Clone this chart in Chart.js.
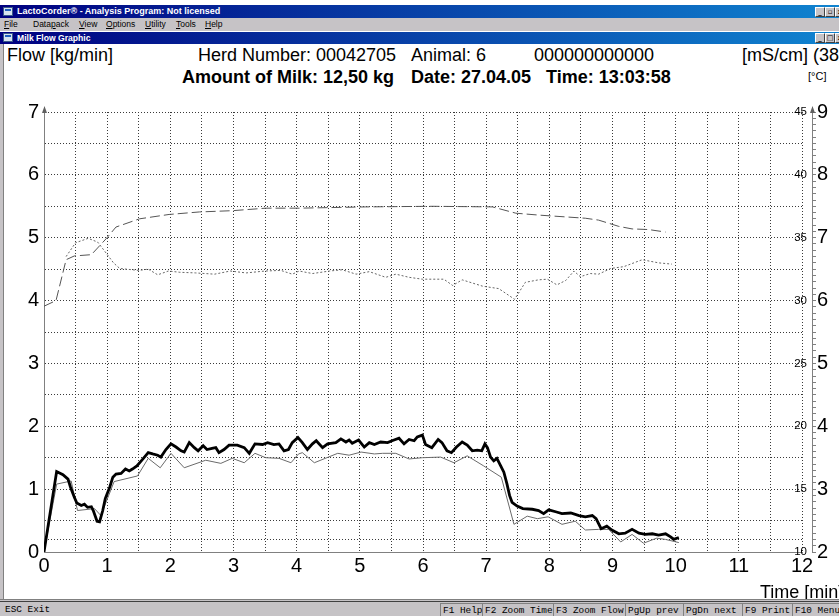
<!DOCTYPE html>
<html>
<head>
<meta charset="utf-8">
<title>Milk Flow Graphic</title>
<script src="https://cdn.jsdelivr.net/npm/chart.js@4.4.1/dist/chart.umd.min.js"></script>
<style>
  html, body { margin: 0; padding: 0; background: #fff; }
  #screen { position: relative; width: 839px; height: 616px; overflow: hidden; background: #fff;
            font-family: "Liberation Sans", Arial, sans-serif; color: #000; }
  .caption { position: absolute; left: 0; width: 839px; color: #fff; font-weight: bold;
             background: linear-gradient(to right, #000080, #1084d0); white-space: nowrap; }
  .caption .txt { position: absolute; left: 17px; top: 0; }
  .icon { position: absolute; left: 3px; width: 10px; height: 9px; background: #d8e4f0;
          border: 1px solid #3a5a8a; box-sizing: border-box; }
  .icon::after { content: ""; position: absolute; left: 1px; top: 1px; width: 6px; height: 2px; background: #2060c0; }
  .btn { position: absolute; width: 8px; height: 8px; background: #c6c3c6; border: 1px solid;
         border-color: #fff #404040 #404040 #fff; font: bold 7px/8px "DejaVu Sans", sans-serif;
         color: #000; text-align: center; box-sizing: content-box; }
  #menu { position: absolute; left: 0; top: 18px; width: 839px; height: 13px; background: #c6c3c6;
          font-size: 8.5px; line-height: 13px; }
  #menu span { position: absolute; top: 0; }
  #leftedge { position: absolute; left: 0; top: 44px; width: 3px; height: 556px; background: #c6c3c6;
              border-right: 1px solid #808080; }
  .hdr { position: absolute; font-size: 18px; line-height: 20px; white-space: nowrap; }
  .hdr.b { font-weight: bold; }
  #degc { position: absolute; left: 808px; top: 70px; font-size: 11px; line-height: 13px; }
  #timeTitle { position: absolute; left: 760px; top: 582px; font-size: 18px; line-height: 20px; white-space: nowrap; }
  #chartBox { position: absolute; left: 0; top: 95px; }
  #bottomEdge { position: absolute; left: 0; top: 599px; width: 839px; height: 3px;
                border-top: 1px solid #808080; border-bottom: 1px solid #404040; background: #c6c3c6; box-sizing: border-box; }
  #status { position: absolute; left: 0; top: 602px; width: 839px; height: 14px; background: #c6c3c6;
            font-family: "Liberation Mono", "DejaVu Sans Mono", monospace; font-size: 9.4px; line-height: 13px; }
  #status span { position: absolute; top: 1px; height: 13px; white-space: nowrap; overflow: hidden;
                 padding-left: 2px; box-sizing: border-box; }
  #status span.cell { border-left: 1px solid #808080; border-top: 1px solid #808080; }
</style>
</head>
<body>
<div id="screen">
  <div class="caption" style="top:5px;height:13px;font-size:9px;line-height:13px;">
    <div class="icon" style="top:2px;"></div>
    <span class="txt">LactoCorder® - Analysis Program: Not licensed</span>
    <div class="btn" style="left:815px;top:2px;">_</div>
    <div class="btn" style="left:825px;top:2px;">▫</div>
    <div class="btn" style="left:835px;top:2px;">x</div>
  </div>
  <div id="menu">
    <span style="left:4px"><u>F</u>ile</span>
    <span style="left:33px">Data<u>p</u>ack</span>
    <span style="left:79px"><u>V</u>iew</span>
    <span style="left:106px"><u>O</u>ptions</span>
    <span style="left:145px"><u>U</u>tility</span>
    <span style="left:176px"><u>T</u>ools</span>
    <span style="left:205px"><u>H</u>elp</span>
  </div>
  <div class="caption" style="top:32px;height:12px;font-size:8.6px;line-height:12px;">
    <div class="icon" style="top:1px;"></div>
    <span class="txt">Milk Flow Graphic</span>
    <div class="btn" style="left:815px;top:1px;">_</div>
    <div class="btn" style="left:825px;top:1px;">□</div>
    <div class="btn" style="left:835px;top:1px;">x</div>
  </div>
  <div id="leftedge"></div>

  <div class="hdr" style="left:7px;top:45px;">Flow [kg/min]</div>
  <div class="hdr" style="left:198px;top:45px;">Herd Number: 00042705</div>
  <div class="hdr" style="left:411px;top:45px;">Animal: 6</div>
  <div class="hdr" style="left:534px;top:45px;">000000000000</div>
  <div class="hdr" style="left:742px;top:45px;">[mS/cm] (38)</div>
  <div class="hdr b" style="left:182px;top:67px;">Amount of Milk: 12,50 kg</div>
  <div class="hdr b" style="left:411px;top:67px;">Date: 27.04.05</div>
  <div class="hdr b" style="left:546px;top:67px;">Time: 13:03:58</div>
  <div id="degc">[°C]</div>

  <div id="chartBox"><canvas id="chart" width="839" height="505"></canvas></div>
  <div id="timeTitle">Time [min]</div>

  <div id="bottomEdge"></div>
  <div id="status">
    <span style="left:3px;width:200px;">ESC Exit</span>
    <span class="cell" style="left:440px;width:42px;">F1 Help</span>
    <span class="cell" style="left:482px;width:71px;">F2 Zoom Time</span>
    <span class="cell" style="left:553px;width:72px;">F3 Zoom Flow</span>
    <span class="cell" style="left:625px;width:58px;">PgUp prev</span>
    <span class="cell" style="left:683px;width:59px;">PgDn next</span>
    <span class="cell" style="left:742px;width:50px;">F9 Print</span>
    <span class="cell" style="left:792px;width:60px;">F10 Menu</span>
  </div>
</div>

<script>
// Milking record: flow (kg/min), comparison flow, temperature (°C), conductivity (mS/cm)
const flowTime = [0,0.2,0.3,0.38,0.42,0.48,0.52,0.59,0.64,0.69,0.75,0.78,0.84,0.88,0.93,0.97,1.04,1.09,1.14,1.22,
  1.29,1.35,1.40,1.47,1.54,1.65,1.72,1.80,1.85,1.93,2.01,2.09,2.17,2.22,2.30,2.38,2.44,2.52,2.58,2.66,
  2.72,2.77,2.85,2.93,3.06,3.17,3.25,3.34,3.46,3.54,3.64,3.72,3.80,3.87,3.93,4.02,4.09,4.17,4.25,4.31,
  4.41,4.49,4.62,4.70,4.78,4.83,4.88,4.98,5.07,5.15,5.23,5.33,5.44,5.51,5.62,5.70,5.78,5.86,5.91,5.99,
  6.04,6.14,6.24,6.30,6.38,6.45,6.53,6.62,6.70,6.78,6.86,6.93,6.98,7.02,7.07,7.12,7.17,7.23,7.28,7.33,
  7.37,7.41,7.49,7.58,7.73,7.83,7.91,7.99,8.10,8.20,8.34,8.47,8.57,8.68,8.74,8.82,8.91,8.99,9.10,9.20,
  9.31,9.42,9.52,9.63,9.73,9.84,9.92,9.97,10.05];
const flowValues = [0,1.28,1.23,1.16,1.03,0.87,0.78,0.74,0.76,0.71,0.72,0.66,0.49,0.48,0.66,0.85,1.03,1.19,1.24,1.25,
  1.32,1.29,1.32,1.37,1.45,1.58,1.56,1.54,1.51,1.63,1.72,1.67,1.61,1.59,1.74,1.66,1.61,1.69,1.63,1.65,
  1.66,1.58,1.63,1.70,1.70,1.66,1.57,1.72,1.71,1.74,1.71,1.72,1.61,1.63,1.74,1.82,1.74,1.63,1.72,1.77,
  1.66,1.72,1.74,1.80,1.75,1.78,1.73,1.78,1.67,1.74,1.71,1.75,1.74,1.77,1.81,1.72,1.79,1.77,1.83,1.86,
  1.71,1.66,1.79,1.74,1.61,1.58,1.67,1.75,1.70,1.61,1.62,1.61,1.72,1.66,1.51,1.45,1.49,1.37,1.27,1.08,
  0.90,0.79,0.73,0.69,0.68,0.66,0.61,0.67,0.64,0.61,0.62,0.58,0.56,0.58,0.53,0.37,0.41,0.35,0.29,0.30,
  0.36,0.30,0.28,0.29,0.27,0.29,0.24,0.20,0.23];

const refTime = [0,0.2,0.43,0.53,0.80,0.90,1.11,1.48,1.65,1.84,2.01,2.22,2.56,2.80,2.98,3.17,3.34,3.51,3.72,3.91,
  4.03,4.09,4.28,4.65,4.83,5.02,5.23,5.36,5.57,5.78,5.99,6.28,6.49,6.70,6.96,7.24,7.44,7.65,7.81,7.98,
  8.20,8.41,8.57,8.78,8.94,9.13,9.31,9.49,9.70,9.84,10.05];
const refValues = [0,1.08,1.13,0.66,0.69,0.58,1.12,1.21,1.49,1.34,1.57,1.34,1.46,1.41,1.49,1.42,1.57,1.50,1.49,1.42,
  1.56,1.58,1.42,1.57,1.54,1.59,1.56,1.57,1.57,1.48,1.50,1.51,1.42,1.53,1.37,1.19,0.44,0.57,0.53,0.56,
  0.44,0.49,0.35,0.36,0.36,0.16,0.28,0.14,0.22,0.20,0.15];

const tempTime = [0,0.19,0.35,0.48,0.75,0.98,1.14,1.51,1.98,2.46,2.98,3.51,4.04,5.09,6.15,7.10,7.47,7.83,8.57,8.78,
  9.10,9.31,9.57,9.84];
const tempValues = [29.55,30.0,33.25,33.55,33.65,34.9,35.85,36.5,36.85,37.05,37.15,37.35,37.35,37.45,37.5,37.45,36.95,36.8,36.55,36.4,
  35.9,35.7,35.65,35.45];

const condTime = [0.35,0.5,0.7,0.85,0.95,1.1,1.2,1.5,1.65,1.8,1.97,2.15,2.4,2.7,2.95,3.2,3.5,3.75,3.93,4.04,
  4.25,4.52,4.72,4.94,5.15,5.41,5.57,5.78,5.99,6.33,6.47,6.62,6.94,7.20,7.45,7.62,7.83,7.97,8.12,8.26,
  8.39,8.49,8.65,8.78,8.97,9.18,9.47,9.73,9.94];
const condValues = [6.70,6.92,6.99,6.93,6.80,6.60,6.51,6.48,6.50,6.41,6.47,6.45,6.44,6.42,6.47,6.44,6.47,6.48,6.42,6.47,
  6.43,6.47,6.49,6.42,6.46,6.37,6.42,6.37,6.34,6.34,6.24,6.33,6.23,6.19,6.02,6.29,6.33,6.34,6.25,6.32,
  6.47,6.38,6.43,6.42,6.51,6.54,6.65,6.60,6.58];

// Axis tick values
const timeTicks = [0,0.5,1,1.5,2,2.5,3,3.5,4,4.5,5,5.5,6,6.5,7,7.5,8,8.5,9,9.5,10,10.5,11,11.5,12];
const flowTicks = [0,0.2,0.5,1,1.5,2,2.5,3,3.5,4,4.5,5,5.5,6,6.5,7];
const tempTicks = [10,15,20,25,30,35,40,45];
const condTicks = [2,3,4,5,6,7,8,9];

const pairs = (xs, ys) => xs.map((x, i) => ({ x, y: ys[i] }));
const isWhole = v => Math.abs(v - Math.round(v)) < 1e-6;

const GRID = '#3a3a3a';
const AXIS = '#808080';
const DOTS = [1, 2];

// small arrowheads on top of the flow and conductivity axis lines
const axisArrows = {
  id: 'axisArrows',
  afterDraw(chart) {
    const { ctx, chartArea } = chart;
    const top = chartArea.top;
    const xs = [chart.scales.flow.right, chart.scales.cond.left];
    ctx.save();
    ctx.fillStyle = '#606060';
    xs.forEach(x0 => {
      const x = Math.round(x0) + 0.5;
      ctx.beginPath();
      ctx.moveTo(x, top - 6);
      ctx.lineTo(x - 2.5, top + 1);
      ctx.lineTo(x + 2.5, top + 1);
      ctx.closePath();
      ctx.fill();
    });
    ctx.restore();
  }
};

Chart.defaults.font.family = "'Liberation Sans', Arial, sans-serif";
Chart.defaults.color = '#000';

new Chart(document.getElementById('chart'), {
  type: 'line',
  data: {
    datasets: [
      { label: 'Flow', data: pairs(flowTime, flowValues), yAxisID: 'flow',
        borderColor: '#000', borderWidth: 2.8 },
      { label: 'Flow (comparison)', data: pairs(refTime, refValues), yAxisID: 'flow',
        borderColor: '#6a6a6a', borderWidth: 1 },
      { label: 'Temperature', data: pairs(tempTime, tempValues), yAxisID: 'temp',
        borderColor: '#555', borderWidth: 1, borderDash: [10, 4] },
      { label: 'Conductivity', data: pairs(condTime, condValues), yAxisID: 'cond',
        borderColor: '#666', borderWidth: 1, borderDash: [2, 2] }
    ]
  },
  options: {
    responsive: false,
    animation: false,
    devicePixelRatio: 1,
    events: [],
    elements: { point: { radius: 0 }, line: { tension: 0, fill: false } },
    layout: { padding: { top: 13, left: 0, right: 0, bottom: 0 } },
    plugins: { legend: { display: false }, tooltip: { enabled: false }, title: { display: false } },
    scales: {
      x: {
        type: 'linear', position: 'bottom', min: 0, max: 12,
        afterBuildTicks: s => { s.ticks = timeTicks.map(value => ({ value })); },
        afterFit: s => { s.height = 48; },
        ticks: { autoSkip: false, maxRotation: 0, padding: 2, font: { size: 20 },
                 callback: v => isWhole(v) ? String(v) : '' },
        grid: { color: GRID, lineWidth: 1, drawTicks: false },
        border: { display: true, color: AXIS, width: 1, dash: DOTS }
      },
      flow: {
        type: 'linear', position: 'left', min: 0, max: 7,
        afterBuildTicks: s => { s.ticks = flowTicks.map(value => ({ value })); },
        afterFit: s => { s.width = 44; },
        ticks: { autoSkip: false, padding: 5, font: { size: 20 },
                 callback: v => isWhole(v) ? String(v) : '' },
        grid: { color: GRID, lineWidth: 1, drawTicks: false },
        border: { display: true, color: AXIS, width: 1, dash: DOTS }
      },
      temp: {
        type: 'linear', position: 'right', weight: 0, min: 10, max: 45,
        afterBuildTicks: s => { s.ticks = tempTicks.map(value => ({ value })); },
        afterFit: s => { s.width = 10; },
        ticks: { autoSkip: false, mirror: true, padding: 5, font: { size: 11.5 }, crossAlign: 'near' },
        grid: { display: false },
        border: { display: false }
      },
      cond: {
        type: 'linear', position: 'right', weight: 1, min: 2, max: 9,
        afterBuildTicks: s => {
          const t = [];
          for (let i = condTicks[0] * 10; i <= condTicks[condTicks.length - 1] * 10; i++) t.push({ value: i / 10 });
          s.ticks = t;
        },
        afterFit: s => { s.width = 27; },
        ticks: { autoSkip: false, padding: 1, font: { size: 20 },
                 callback: v => (isWhole(v) && condTicks.includes(Math.round(v))) ? String(Math.round(v)) : '' },
        grid: { drawOnChartArea: false, drawTicks: true, tickLength: 4, color: AXIS, lineWidth: 1 },
        border: { display: true, color: AXIS, width: 1 }
      }
    }
  },
  plugins: [axisArrows]
});
</script>
</body>
</html>
